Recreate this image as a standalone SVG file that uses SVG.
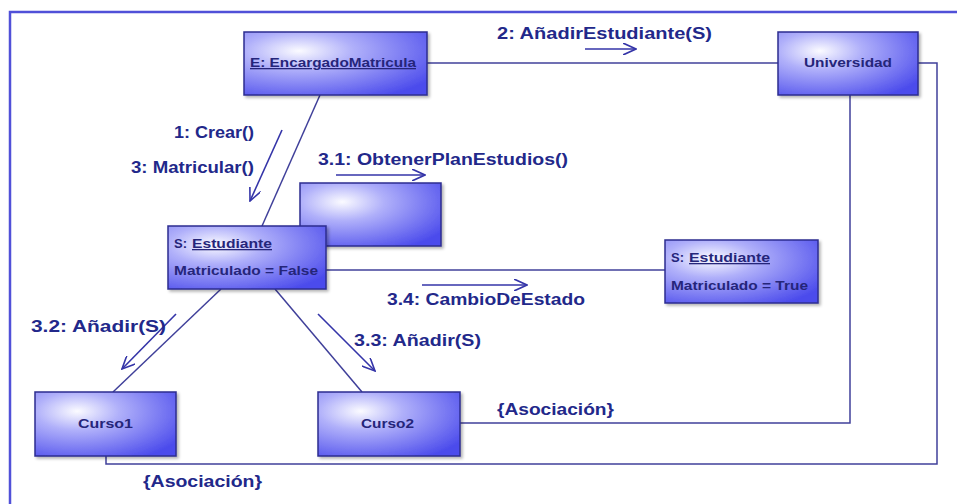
<svg xmlns="http://www.w3.org/2000/svg" width="957" height="504" viewBox="0 0 957 504">
  <defs>
    <radialGradient id="nodeFill" cx="0.3" cy="0.3" r="0.85">
      <stop offset="0" stop-color="#fbfbff"/>
      <stop offset="0.35" stop-color="#b0b0fa"/>
      <stop offset="1" stop-color="#4c4cec"/>
    </radialGradient>
    <filter id="shadow" x="-10%" y="-10%" width="125%" height="130%">
      <feGaussianBlur in="SourceAlpha" stdDeviation="1.5"/>
      <feOffset dx="2" dy="2"/>
      <feComponentTransfer><feFuncA type="linear" slope="0.3"/></feComponentTransfer>
      <feMerge><feMergeNode/><feMergeNode in="SourceGraphic"/></feMerge>
    </filter>
    <marker id="open" viewBox="0 0 14 12" refX="13" refY="6" markerWidth="14" markerHeight="12" markerUnits="userSpaceOnUse" orient="auto">
      <path d="M0,0 L13,6 L0,12" fill="none" stroke="#3434a8" stroke-width="1.6"/>
    </marker>
  </defs>
  <style>
    .node rect { fill: url(#nodeFill); stroke: #2c2c90; stroke-width: 1.5; filter: url(#shadow); }
    .nt { font-family: "Liberation Sans", Arial, sans-serif; font-weight: bold; font-size: 13px; fill: #25257a; }
    .u { text-decoration: underline; }
    .link { fill: none; stroke: #40409a; stroke-width: 1.5; }
    .msg { fill: none; stroke: #3434a8; stroke-width: 1.6; marker-end: url(#open); }
    .lbl { font-family: "Liberation Sans", Arial, sans-serif; font-weight: bold; font-size: 16px; fill: #22288a; }
    .frame { fill: none; stroke: #5050d8; stroke-width: 2.5; }
  </style>

  <rect width="957" height="504" fill="#ffffff"/>
  <!-- outer frame -->
  <path class="frame" d="M10,504 L10,12 L957,12"/>

  <!-- links between objects -->
  <g id="connectors">
    <line class="link" x1="427" y1="63" x2="778" y2="63"/>
    <path class="link" d="M918,63 H937 V464 H106 V456"/>
    <path class="link" d="M850,95 V423 H460"/>
    <line class="link" x1="320" y1="95" x2="262" y2="226"/>
    <line class="link" x1="326" y1="270" x2="665" y2="270"/>
    <line class="link" x1="221" y1="289" x2="113" y2="392"/>
    <line class="link" x1="275" y1="289" x2="362" y2="392"/>

    <!-- messages -->
    <line class="msg" x1="585" y1="49" x2="636" y2="49"/>
    <line class="msg" x1="282" y1="130" x2="250" y2="201"/>
    <line class="msg" x1="336" y1="175" x2="425" y2="175"/>
    <line class="msg" x1="422" y1="285" x2="527" y2="285"/>
    <line class="msg" x1="176" y1="314" x2="122" y2="369"/>
    <line class="msg" x1="318" y1="314" x2="375" y2="371"/>

    <text class="lbl" x="497" y="39" textLength="215" lengthAdjust="spacingAndGlyphs">2:  AñadirEstudiante(S)</text>
    <text class="lbl" x="174" y="138" textLength="80" lengthAdjust="spacingAndGlyphs">1: Crear()</text>
    <text class="lbl" x="131" y="173" textLength="123" lengthAdjust="spacingAndGlyphs">3: Matricular()</text>
    <text class="lbl" x="318" y="165" textLength="250" lengthAdjust="spacingAndGlyphs">3.1: ObtenerPlanEstudios()</text>
    <text class="lbl" x="387" y="305" textLength="198" lengthAdjust="spacingAndGlyphs">3.4: CambioDeEstado</text>
    <text class="lbl" x="31" y="332" textLength="135" lengthAdjust="spacingAndGlyphs">3.2: Añadir(S)</text>
    <text class="lbl" x="354" y="346" textLength="127" lengthAdjust="spacingAndGlyphs">3.3: Añadir(S)</text>
    <text class="lbl" x="497" y="415" textLength="117" lengthAdjust="spacingAndGlyphs">{Asociación}</text>
    <text class="lbl" x="143" y="487" textLength="119" lengthAdjust="spacingAndGlyphs">{Asociación}</text>
  </g>

  <g id="encargado" class="node">
    <rect x="244" y="32" width="183" height="63"/>
    <text class="nt u" x="250" y="67" textLength="166" lengthAdjust="spacingAndGlyphs">E: EncargadoMatricula</text>
  </g>

  <g id="universidad" class="node">
    <rect x="778" y="32" width="140" height="63"/>
    <text class="nt" x="804" y="67" textLength="88" lengthAdjust="spacingAndGlyphs">Universidad</text>
  </g>

  <g id="plan" class="node">
    <rect x="300" y="183" width="141" height="63"/>
  </g>

  <g id="estudiante1" class="node">
    <rect x="168" y="226" width="158" height="63"/>
    <text class="nt" x="174" y="248" textLength="13" lengthAdjust="spacingAndGlyphs">S:</text>
    <text class="nt u" x="192" y="248" textLength="80" lengthAdjust="spacingAndGlyphs">Estudiante</text>
    <text class="nt" x="174" y="275" textLength="144" lengthAdjust="spacingAndGlyphs">Matriculado = False</text>
  </g>

  <g id="estudiante2" class="node">
    <rect x="665" y="240" width="153" height="63"/>
    <text class="nt" x="671" y="262" textLength="13" lengthAdjust="spacingAndGlyphs">S:</text>
    <text class="nt u" x="689" y="262" textLength="81" lengthAdjust="spacingAndGlyphs">Estudiante</text>
    <text class="nt" x="671" y="290" textLength="137" lengthAdjust="spacingAndGlyphs">Matriculado = True</text>
  </g>

  <g id="curso1" class="node">
    <rect x="35" y="392" width="141" height="64"/>
    <text class="nt" x="78" y="428" textLength="55" lengthAdjust="spacingAndGlyphs">Curso1</text>
  </g>

  <g id="curso2" class="node">
    <rect x="318" y="392" width="142" height="64"/>
    <text class="nt" x="361" y="428" textLength="53" lengthAdjust="spacingAndGlyphs">Curso2</text>
  </g>
</svg>
